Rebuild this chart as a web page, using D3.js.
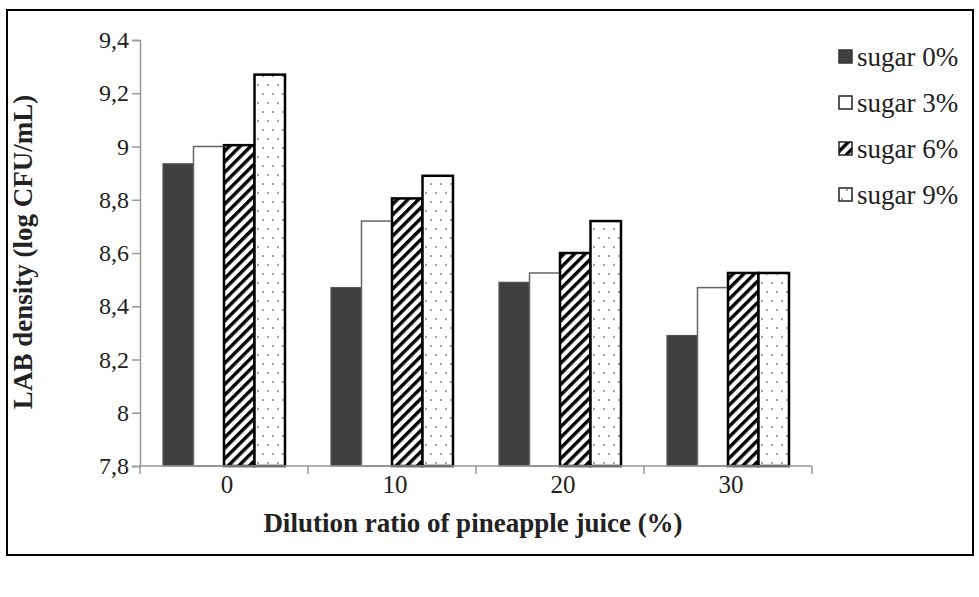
<html>
<head>
<style>
  body { margin: 0; background: #fff; }
  text { font-family: "Liberation Serif", "Times New Roman", serif; fill: #222; }
</style>
</head>
<body>
<svg id="chart" width="979" height="597"></svg>
<script src="https://cdn.jsdelivr.net/npm/d3@7"></script>
<script>
  // data
  let dilution = ["0", "10", "20", "30"]
  let seriesNames = ["sugar 0%", "sugar 3%", "sugar 6%", "sugar 9%"]
  let sugar0 = [8.935, 8.47, 8.49, 8.29]
  let sugar3 = [9.0, 8.72, 8.525, 8.47]
  let sugar6 = [9.005, 8.805, 8.6, 8.525]
  let sugar9 = [9.27, 8.89, 8.72, 8.525]
  let yTicks = [7.8, 8, 8.2, 8.4, 8.6, 8.8, 9, 9.2, 9.4]

  let allSeries = [sugar0, sugar3, sugar6, sugar9]

  let svg = d3.select("#chart")

  // patterns for the bars
  let defs = svg.append("defs")
  let hatch = defs.append("pattern")
      .attr("id", "hatch")
      .attr("patternUnits", "userSpaceOnUse")
      .attr("width", 7.5).attr("height", 7.5)
      .attr("patternTransform", "rotate(45)")
  hatch.append("rect").attr("width", 7.5).attr("height", 7.5).attr("fill", "white")
  hatch.append("rect").attr("x", 0).attr("width", 3.4).attr("height", 7.5).attr("fill", "black")

  let dots = defs.append("pattern")
      .attr("id", "dots")
      .attr("patternUnits", "userSpaceOnUse")
      .attr("width", 10).attr("height", 18)
  dots.append("rect").attr("width", 10).attr("height", 18).attr("fill", "white")
  dots.append("circle").attr("cx", 3).attr("cy", 4).attr("r", 0.9).attr("fill", "#777")
  dots.append("circle").attr("cx", 8).attr("cy", 13).attr("r", 0.9).attr("fill", "#777")

  let fills = ["#404040", "white", "url(#hatch)", "url(#dots)"]
  let strokes = ["#555", "#666", "black", "black"]
  let strokeW = [1.2, 1.5, 2.5, 2.5]

  // outer frame
  svg.append("rect")
      .attr("x", 7).attr("y", 10)
      .attr("width", 966).attr("height", 545)
      .attr("fill", "none").attr("stroke", "black").attr("stroke-width", 2)

  let plotLeft = 140, plotRight = 812, plotTop = 40, plotBottom = 466

  let x = d3.scaleBand().domain(dilution).range([plotLeft, plotRight])
  let inner = d3.scaleBand().domain(d3.range(4))
      .range([23, x.bandwidth() - 23])
  let y = d3.scaleLinear().domain([7.8, 9.4]).range([plotBottom, plotTop])

  // bars
  let groups = svg.selectAll(".grp")
      .data(dilution)
      .enter().append("g")
      .attr("transform", d => "translate(" + x(d) + ",0)")

  groups.selectAll("rect")
      .data((d, i) => allSeries.map((s, k) => ({k: k, v: s[i]})))
      .enter().append("rect")
      .attr("x", d => inner(d.k))
      .attr("width", inner.bandwidth())
      .attr("y", d => y(d.v))
      .attr("height", d => plotBottom - y(d.v))
      .attr("fill", d => fills[d.k])
      .attr("stroke", d => strokes[d.k])
      .attr("stroke-width", d => strokeW[d.k])

  // y axis
  let yAxis = svg.append("g")
      .attr("transform", "translate(" + plotLeft + ",0)")
      .call(d3.axisLeft(y).tickValues(yTicks).tickSize(8).tickPadding(3)
          .tickFormat(d => String(d).replace(".", ",")))
  yAxis.selectAll("line, path").attr("stroke", "#999").attr("stroke-width", 1.5)
  yAxis.selectAll("text").attr("font-size", 24).attr("font-family", "Liberation Serif").attr("fill", "#222")

  // x axis: ticks between categories
  let xAxis = svg.append("g")
      .attr("transform", "translate(0," + plotBottom + ")")
  xAxis.append("line")
      .attr("x1", plotLeft).attr("x2", plotRight)
      .attr("stroke", "#999").attr("stroke-width", 1.5)
  xAxis.selectAll(".tk")
      .data(dilution.concat(["end"]))
      .enter().append("line")
      .attr("x1", d => d == "end" ? plotRight : x(d))
      .attr("x2", d => d == "end" ? plotRight : x(d))
      .attr("y1", 0).attr("y2", 8)
      .attr("stroke", "#999").attr("stroke-width", 1.5)
  xAxis.selectAll(".lbl")
      .data(dilution)
      .enter().append("text")
      .attr("x", d => x(d) + x.bandwidth() / 2 + 3)
      .attr("y", 27)
      .attr("text-anchor", "middle")
      .attr("font-size", 25)
      .text(d => d)

  // axis titles
  svg.append("text")
      .attr("x", 473).attr("y", 532)
      .attr("text-anchor", "middle")
      .attr("font-size", 27).attr("font-weight", "bold")
      .text("Dilution ratio of pineapple juice (%)")

  svg.append("text")
      .attr("transform", "translate(32,252) rotate(-90)")
      .attr("text-anchor", "middle")
      .attr("font-size", 27).attr("font-weight", "bold")
      .text("LAB density (log CFU/mL)")

  // legend
  let legend = svg.selectAll(".leg")
      .data(seriesNames)
      .enter().append("g")
      .attr("transform", (d, i) => "translate(839," + (57 + i * 46) + ")")
  legend.append("rect")
      .attr("x", 0).attr("y", -7)
      .attr("width", 13).attr("height", 13)
      .attr("fill", (d, i) => fills[i])
      .attr("stroke", (d, i) => i == 0 ? "#333" : "#222")
      .attr("stroke-width", 1.5)
  legend.append("text")
      .attr("x", 18).attr("y", 9)
      .attr("font-size", 27)
      .text(d => d)
</script>
</body>
</html>
